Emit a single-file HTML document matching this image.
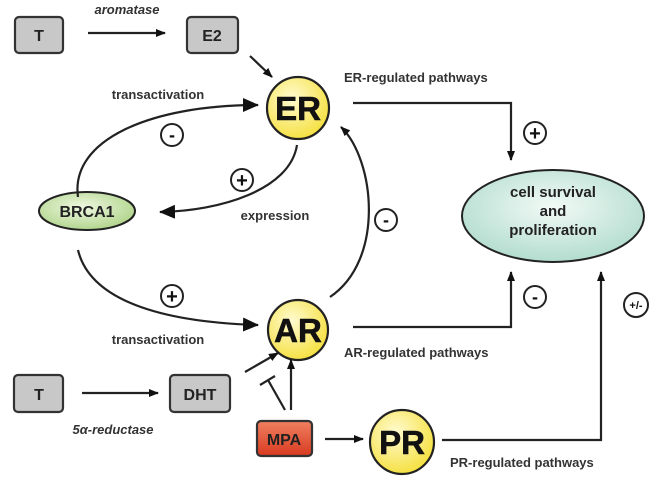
<!DOCTYPE html>
<html><head><meta charset="utf-8"><style>
body{margin:0;background:#fff;}
svg{display:block;font-family:"Liberation Sans",Arial,sans-serif;font-weight:bold;}
</style></head><body>
<svg width="659" height="485" viewBox="0 0 659 485" xmlns="http://www.w3.org/2000/svg">
<defs>
<marker id="a" markerWidth="10" markerHeight="10" refX="9" refY="5" orient="auto" markerUnits="userSpaceOnUse"><path d="M0,1 L10,5 L0,9 Z" fill="#111"/></marker>
<marker id="b" markerWidth="16" markerHeight="14" refX="15" refY="7" orient="auto" markerUnits="userSpaceOnUse"><path d="M0,0 L16,7 L0,14 Z" fill="#111"/></marker>
<radialGradient id="y" cx="40%" cy="35%" r="70%"><stop offset="0" stop-color="#fffbd0"/><stop offset="1" stop-color="#f5df3a"/></radialGradient>
<radialGradient id="g" cx="45%" cy="40%" r="70%"><stop offset="0" stop-color="#eef7e0"/><stop offset="1" stop-color="#a8d080"/></radialGradient>
<radialGradient id="c" cx="50%" cy="40%" r="70%"><stop offset="0" stop-color="#f2faf6"/><stop offset="1" stop-color="#a8d8c8"/></radialGradient>
<linearGradient id="r" x1="0" y1="0" x2="0" y2="1"><stop offset="0" stop-color="#f08060"/><stop offset="1" stop-color="#d83a20"/></linearGradient>
</defs>
<g stroke="#333" stroke-width="2.2" fill="#c8c8c8">
<rect x="15" y="17" width="48" height="36" rx="4"/>
<rect x="187" y="17" width="51" height="36" rx="4"/>
<rect x="14" y="375" width="49" height="37" rx="4"/>
<rect x="170" y="375" width="60" height="37" rx="4"/>
<rect x="257" y="421" width="55" height="35" rx="4" fill="url(#r)"/>
</g>
<g fill="#222" font-size="16" text-anchor="middle">
<text x="39" y="41">T</text><text x="212" y="41">E2</text>
<text x="39" y="400">T</text><text x="200" y="400">DHT</text>
<text x="284" y="445">MPA</text>
</g>
<g stroke="#222" stroke-width="2.2" fill="url(#y)">
<circle cx="298" cy="108" r="31"/><circle cx="298" cy="330" r="30"/><circle cx="402" cy="442" r="32"/>
</g>
<g fill="#111" font-size="33" text-anchor="middle" stroke="#111" stroke-width="0.6">
<text x="298" y="120">ER</text><text x="298" y="342">AR</text><text x="402" y="454">PR</text>
</g>
<ellipse cx="87" cy="211" rx="48" ry="19" fill="url(#g)" stroke="#222" stroke-width="2"/>
<text x="87" y="217" font-size="16" text-anchor="middle" fill="#222">BRCA1</text>
<ellipse cx="553" cy="216" rx="91" ry="46" fill="url(#c)" stroke="#222" stroke-width="2"/>
<g font-size="15" text-anchor="middle" fill="#222">
<text x="553" y="197">cell survival</text><text x="553" y="216">and</text><text x="553" y="235">proliferation</text>
</g>
<g stroke="#222" stroke-width="2.2" fill="none">
<line x1="88" y1="33" x2="165" y2="33" marker-end="url(#a)"/>
<line x1="250" y1="56" x2="272" y2="77" marker-end="url(#a)"/>
<path d="M78,197 C70,140 150,105 258,105" marker-end="url(#b)"/>
<path d="M297,145 C290,190 220,211 160,212" marker-end="url(#b)"/>
<path d="M78,250 C90,300 160,322 258,325" marker-end="url(#b)"/>
<path d="M330,297 C385,260 375,160 341,127" marker-end="url(#a)"/>
<polyline points="353,103 511,103 511,160" marker-end="url(#a)"/>
<polyline points="353,327 511,327 511,272" marker-end="url(#a)"/>
<polyline points="442,440 601,440 601,272" marker-end="url(#a)"/>
<line x1="82" y1="393" x2="158" y2="393" marker-end="url(#a)"/>
<line x1="245" y1="372" x2="278" y2="353" marker-end="url(#a)"/>
<line x1="285" y1="410" x2="268" y2="380"/>
<line x1="260" y1="385" x2="275" y2="376"/>
<line x1="291" y1="410" x2="291" y2="360" marker-end="url(#a)"/>
<line x1="325" y1="439" x2="363" y2="439" marker-end="url(#a)"/>
</g>
<g stroke="#222" stroke-width="2" fill="#fff">
<circle cx="172" cy="135" r="11"/><circle cx="242" cy="180" r="11"/><circle cx="172" cy="296" r="11"/>
<circle cx="386" cy="220" r="11"/><circle cx="535" cy="133" r="11"/><circle cx="535" cy="297" r="11"/><circle cx="636" cy="305" r="12"/>
</g>
<g fill="#111" text-anchor="middle">
<text x="172" y="141" font-size="18">-</text><text x="242" y="187" font-size="20">+</text><text x="172" y="303" font-size="20">+</text>
<text x="386" y="226" font-size="18">-</text><text x="535" y="140" font-size="20">+</text><text x="535" y="303" font-size="18">-</text>
<text x="636" y="309" font-size="11">+/-</text>
</g>
<g fill="#333" font-size="13">
<text x="127" y="14" text-anchor="middle" font-style="italic">aromatase</text>
<text x="158" y="99" text-anchor="middle">transactivation</text>
<text x="275" y="220" text-anchor="middle">expression</text>
<text x="158" y="344" text-anchor="middle">transactivation</text>
<text x="113" y="434" text-anchor="middle" font-style="italic">5α-reductase</text>
<text x="344" y="82">ER-regulated pathways</text>
<text x="344" y="357">AR-regulated pathways</text>
<text x="450" y="467">PR-regulated pathways</text>
</g>
</svg>
</body></html>
